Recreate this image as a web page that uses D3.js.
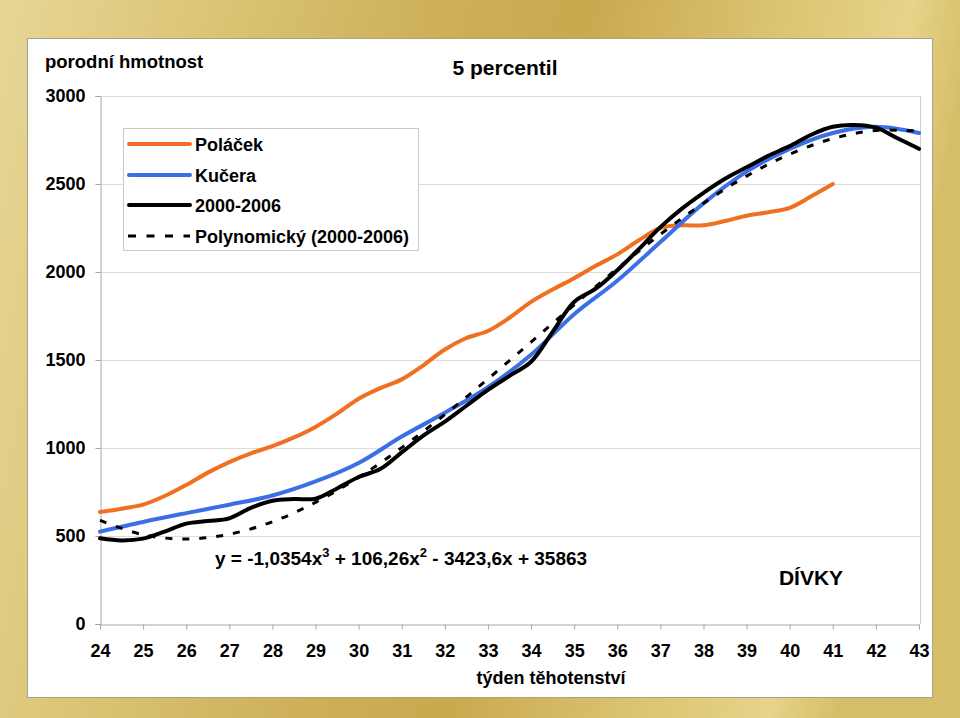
<!DOCTYPE html>
<html>
<head>
<meta charset="utf-8">
<script src="https://cdn.jsdelivr.net/npm/d3@7"></script>
<style>
html,body{margin:0;padding:0;background:#fff;}
svg{display:block;}
text{font-family:"Liberation Sans",Arial,sans-serif;font-weight:bold;fill:#000;}
</style>
</head>
<body>
<svg id="chart" width="960" height="718"></svg>
<script>
// ---- data ----
const weeks = [24,25,26,27,28,29,30,31,32,33,34,35,36,37,38,39,40,41,42,43];
const halfWeeks = [24,24.5,25,25.5,26,26.5,27,27.5,28,28.5,29,29.5,30,30.5,31,31.5,32,32.5,33,33.5,34,34.5,35,35.5,36,36.5,37,37.5,38,38.5,39,39.5,40,40.5,41,41.5,42,42.5,43];
const polacek = [636,655,678,727,790,860,920,970,1010,1060,1120,1195,1280,1340,1390,1470,1560,1625,1665,1740,1830,1900,1965,2035,2100,2180,2250,2265,2265,2290,2320,2340,2365,2430,2500];
const kucera = [525,580,630,678,730,810,915,1065,1200,1345,1530,1760,1950,2170,2390,2570,2700,2790,2825,2790];
const rocnik = [487,475,485,525,570,585,600,660,700,710,712,770,835,880,975,1070,1150,1240,1330,1410,1490,1660,1830,1905,2010,2130,2255,2360,2450,2530,2595,2660,2715,2780,2825,2835,2820,2760,2700];
const polyTrend = [589,507,483,510,581,691,833,1002,1190,1392,1602,1813,2019,2214,2391,2545,2669,2758,2804,2801];
const yTicks = [0,500,1000,1500,2000,2500,3000];
const seriesNames = ["Poláček","Kučera","2000-2006","Polynomický (2000-2006)"];
const seriesColors = ["#f07022","#3a6fe6","#000000","#000000"];

// ---- drawing ----
const svg = d3.select("#chart");
const defs = svg.append("defs");
const g1 = defs.append("linearGradient").attr("id","gold").attr("x1","0").attr("y1","0").attr("x2","1").attr("y2","0.15");
[["0","#e6d696"],["0.2","#dcc678"],["0.45","#cdb058"],["0.6","#c9a94e"],["0.8","#dcc472"],["0.93","#e6d489"],["1","#d6bd68"]]
  .forEach(s=>g1.append("stop").attr("offset",s[0]).attr("stop-color",s[1]));
svg.append("rect").attr("width",960).attr("height",718).attr("fill","url(#gold)");
svg.append("rect").attr("x",27.5).attr("y",38.5).attr("width",905).attr("height",659)
  .attr("fill","#fff").attr("stroke","#a8a18c").attr("stroke-width",1);

const x = d3.scaleLinear().domain([24,43]).range([100,919]);
const y = d3.scaleLinear().domain([0,3000]).range([624,96]);

// gridlines
svg.append("g").selectAll("line").data(yTicks.filter(d=>d>0)).join("line")
  .attr("x1",100).attr("x2",920).attr("y1",d=>y(d)+0.5).attr("y2",d=>y(d)+0.5)
  .attr("stroke","#dcdcdc").attr("stroke-width",1);
// right border
svg.append("line").attr("x1",920.5).attr("x2",920.5).attr("y1",96).attr("y2",624).attr("stroke","#cfcfcf");

// axes
const xAxis = svg.append("g").attr("transform","translate(0,624.5)")
  .call(d3.axisBottom(x).tickValues(weeks).tickSize(5).tickPadding(15).tickFormat(d3.format("d")));
const yAxis = svg.append("g").attr("transform","translate(100.5,0)")
  .call(d3.axisLeft(y).tickValues(yTicks).tickSize(5).tickPadding(10).tickFormat(d3.format("d")));
[xAxis,yAxis].forEach(a=>{
  a.select(".domain").attr("stroke","#a6a6a6");
  a.selectAll(".tick line").attr("stroke","#a6a6a6");
  a.selectAll("text").attr("font-size",18).attr("font-family","Liberation Sans, Arial, sans-serif").attr("font-weight","bold").attr("fill","#000");
});

// lines
const line = d3.line().x(d=>x(d[0])).y(d=>y(d[1])).curve(d3.curveCatmullRom.alpha(0.5));
const pts = (xs,vs)=>vs.map((v,i)=>[xs[i],v]);
const plot = svg.append("g").attr("fill","none").attr("stroke-linejoin","round").attr("stroke-linecap","round");
plot.append("path").attr("d",line(pts(halfWeeks,polacek))).attr("stroke",seriesColors[0]).attr("stroke-width",4);
plot.append("path").attr("d",line(pts(weeks,kucera))).attr("stroke",seriesColors[1]).attr("stroke-width",4);
plot.append("path").attr("d",line(pts(halfWeeks,rocnik))).attr("stroke",seriesColors[2]).attr("stroke-width",4);
plot.append("path").attr("d",line(pts(weeks,polyTrend))).attr("stroke",seriesColors[3]).attr("stroke-width",3)
  .attr("stroke-dasharray","7,10").attr("stroke-linecap","butt");

// legend
const lg = svg.append("g");
lg.append("rect").attr("x",123.5).attr("y",128.5).attr("width",295).attr("height",122).attr("fill","#fff").attr("stroke","#c8c8c8");
const lgY = [144,175,205,236];
seriesNames.forEach((n,i)=>{
  const l = lg.append("line").attr("x1",129).attr("x2",190).attr("y1",lgY[i]).attr("y2",lgY[i])
    .attr("stroke",seriesColors[i]).attr("stroke-width",i===3?3:4);
  if(i===3) l.attr("stroke-dasharray","8,10.5").attr("x1",128);
  else l.attr("stroke-linecap","round");
  lg.append("text").attr("x",195).attr("y",lgY[i]+6.5).attr("font-size",18).text(n);
});

// texts
svg.append("text").attr("x",45).attr("y",68).attr("font-size",18.5).text("porodní hmotnost");
svg.append("text").attr("x",505).attr("y",75).attr("font-size",21).attr("text-anchor","middle").text("5 percentil");
svg.append("text").attr("x",551).attr("y",684).attr("font-size",18).attr("text-anchor","middle").text("týden těhotenství");
svg.append("text").attr("x",811).attr("y",585).attr("font-size",21).attr("text-anchor","middle").text("DÍVKY");
const eq = svg.append("text").attr("x",215).attr("y",565).attr("font-size",19);
eq.append("tspan").text("y = -1,0354x");
eq.append("tspan").attr("dy",-8).attr("font-size",13).text("3");
eq.append("tspan").attr("dy",8).text(" + 106,26x");
eq.append("tspan").attr("dy",-8).attr("font-size",13).text("2");
eq.append("tspan").attr("dy",8).text(" - 3423,6x + 35863");
</script>
</body>
</html>
